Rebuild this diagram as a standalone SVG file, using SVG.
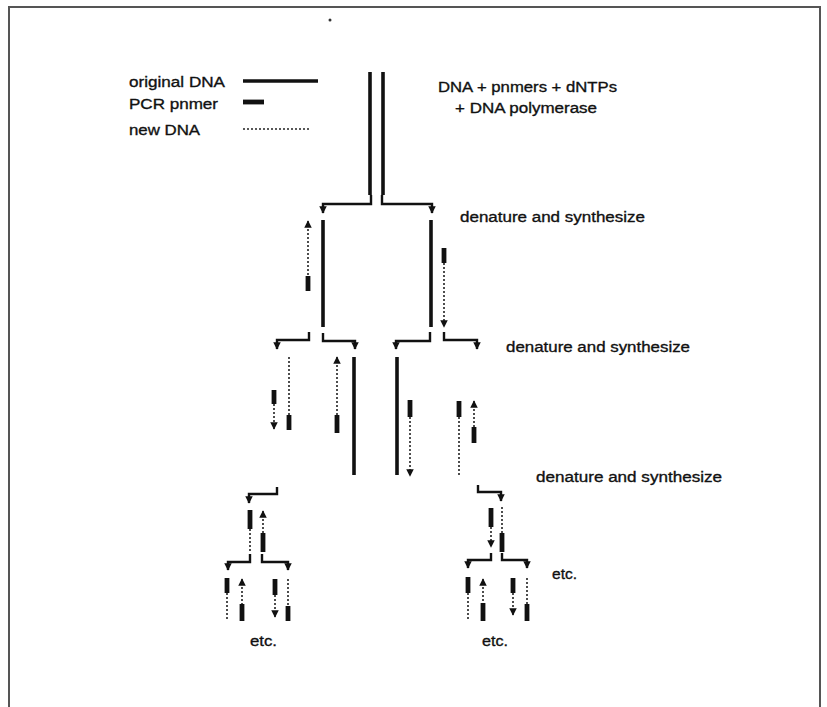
<svg xmlns="http://www.w3.org/2000/svg" width="827" height="707" viewBox="0 0 827 707">
<defs>
<style>
.orig{stroke:#111;stroke-width:3.6;fill:none}
.primer{stroke:#111;stroke-width:4.8;fill:none}
.new{stroke:#222;stroke-width:1.6;stroke-dasharray:2 2;fill:none}
.bend{stroke:#111;stroke-width:2.4;fill:none;marker-end:url(#ah)}
.up{marker-start:url(#ahs)}
.dn{marker-end:url(#ah)}
text{font-family:"Liberation Sans",Arial,sans-serif;font-size:15.5px;fill:#111;stroke:#111;stroke-width:0.35}
.frame{stroke:#555;stroke-width:2;fill:none}
</style>
<marker id="ah" viewBox="0 0 10 10" refX="9" refY="5" markerWidth="7.5" markerHeight="7.5" markerUnits="userSpaceOnUse" orient="auto">
<path d="M0,0 L10,5 L0,10 z" fill="#111"/>
</marker>
<marker id="ahs" viewBox="0 0 10 10" refX="1" refY="5" markerWidth="7.5" markerHeight="7.5" markerUnits="userSpaceOnUse" orient="auto">
<path d="M10,0 L0,5 L10,10 z" fill="#111"/>
</marker>
</defs>
<rect width="827" height="707" fill="#fff"/>
<path class="frame" d="M9,707 V7 H820 V707"/>
<circle cx="330" cy="20" r="1.5" fill="#333"/>

<g id="legend">
<text x="129" y="87" textLength="96" lengthAdjust="spacingAndGlyphs">original DNA</text>
<line class="orig" x1="243" y1="81" x2="318" y2="81"/>
<text x="129" y="109" textLength="89" lengthAdjust="spacingAndGlyphs">PCR pnmer</text>
<line class="primer" x1="243" y1="102" x2="264" y2="102"/>
<text x="129" y="135" textLength="71" lengthAdjust="spacingAndGlyphs">new DNA</text>
<line class="new" x1="243" y1="129" x2="309" y2="129"/>
</g>

<g id="reagents">
<text x="438" y="92" textLength="179" lengthAdjust="spacingAndGlyphs">DNA + pnmers + dNTPs</text>
<text x="455" y="113" textLength="142" lengthAdjust="spacingAndGlyphs">+ DNA polymerase</text>
</g>

<g id="labels">
<text x="460" y="222" textLength="185" lengthAdjust="spacingAndGlyphs">denature and synthesize</text>
<text x="506" y="352" textLength="184" lengthAdjust="spacingAndGlyphs">denature and synthesize</text>
<text x="536" y="482" textLength="186" lengthAdjust="spacingAndGlyphs">denature and synthesize</text>
<text x="552" y="579" textLength="25" lengthAdjust="spacingAndGlyphs">etc.</text>
<text x="250" y="646" textLength="27" lengthAdjust="spacingAndGlyphs">etc.</text>
<text x="482" y="646" textLength="26" lengthAdjust="spacingAndGlyphs">etc.</text>
</g>

<g id="level0">
<line class="orig" x1="370" y1="72" x2="370" y2="195"/>
<line class="orig" x1="383" y1="72" x2="383" y2="195"/>
</g>

<g id="level1">
<line class="orig" x1="323" y1="220" x2="323" y2="327"/>
<line class="new up" x1="308" y1="221" x2="308" y2="276"/>
<line class="primer" x1="308" y1="276" x2="308" y2="291"/>
<line class="orig" x1="431" y1="220" x2="431" y2="327"/>
<line class="primer" x1="444" y1="248" x2="444" y2="263"/>
<line class="new dn" x1="444" y1="263" x2="444" y2="327"/>
</g>

<g id="level2">
<line class="primer" x1="274" y1="390" x2="274" y2="404"/>
<line class="new dn" x1="274" y1="404" x2="274" y2="429"/>
<line class="new" x1="289" y1="357" x2="289" y2="415"/>
<line class="primer" x1="289" y1="415" x2="289" y2="430"/>
<line class="new up" x1="337" y1="357" x2="337" y2="415"/>
<line class="primer" x1="337" y1="415" x2="337" y2="433"/>
<line class="orig" x1="354" y1="357" x2="354" y2="475"/>
<line class="orig" x1="397" y1="357" x2="397" y2="475"/>
<line class="primer" x1="410" y1="400" x2="410" y2="417"/>
<line class="new dn" x1="410" y1="417" x2="410" y2="476"/>
<line class="primer" x1="459" y1="401" x2="459" y2="417"/>
<line class="new" x1="459" y1="417" x2="459" y2="476"/>
<line class="new up" x1="474" y1="401" x2="474" y2="427"/>
<line class="primer" x1="474" y1="427" x2="474" y2="443"/>
</g>

<g id="level3">
<line class="primer" x1="250" y1="510" x2="250" y2="529"/>
<line class="new" x1="250" y1="529" x2="250" y2="552"/>
<line class="new up" x1="263" y1="511" x2="263" y2="533"/>
<line class="primer" x1="263" y1="533" x2="263" y2="552"/>
<line class="primer" x1="491" y1="508" x2="491" y2="527"/>
<line class="new dn" x1="491" y1="527" x2="491" y2="547"/>
<line class="new" x1="502" y1="507" x2="502" y2="533"/>
<line class="primer" x1="502" y1="533" x2="502" y2="552"/>
</g>

<g id="level4">
<line class="primer" x1="227" y1="578" x2="227" y2="593"/>
<line class="new" x1="227" y1="593" x2="227" y2="621"/>
<line class="new up" x1="242" y1="579" x2="242" y2="604"/>
<line class="primer" x1="242" y1="604" x2="242" y2="621"/>
<line class="primer" x1="275" y1="579" x2="275" y2="595"/>
<line class="new dn" x1="275" y1="595" x2="275" y2="617"/>
<line class="new" x1="288" y1="579" x2="288" y2="606"/>
<line class="primer" x1="288" y1="606" x2="288" y2="621"/>
<line class="primer" x1="468" y1="577" x2="468" y2="593"/>
<line class="new" x1="468" y1="593" x2="468" y2="621"/>
<line class="new up" x1="483" y1="579" x2="483" y2="603"/>
<line class="primer" x1="483" y1="603" x2="483" y2="621"/>
<line class="primer" x1="513" y1="578" x2="513" y2="593"/>
<line class="new dn" x1="513" y1="593" x2="513" y2="615"/>
<line class="new" x1="527" y1="578" x2="527" y2="604"/>
<line class="primer" x1="527" y1="604" x2="527" y2="621"/>
</g>

<g id="connectors">
<path class="bend" d="M371,195 V204 H323 V213"/>
<path class="bend" d="M382,195 V204 H432 V213"/>
<path class="bend" d="M309,332 V340 H277 V349"/>
<path class="bend" d="M323,333 V341 H355 V349"/>
<path class="bend" d="M430,332 V341 H396 V349"/>
<path class="bend" d="M444,332 V340 H477 V349"/>
<path class="bend" d="M277,487 V494 H249 V503"/>
<path class="bend" d="M478,485 V492 H501 V501"/>
<path class="bend" d="M250,554 V562 H228 V570"/>
<path class="bend" d="M262,554 V562 H288 V570"/>
<path class="bend" d="M491,553 V560 H468 V568"/>
<path class="bend" d="M502,553 V560 H527 V568"/>
</g>
</svg>
